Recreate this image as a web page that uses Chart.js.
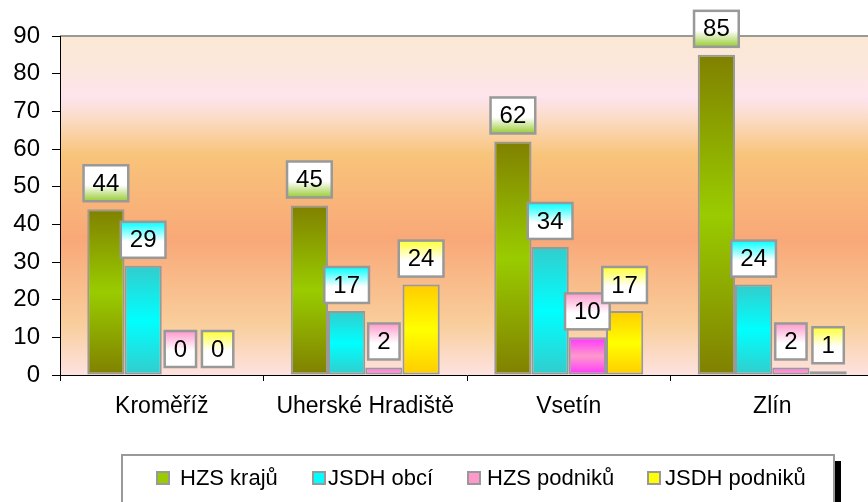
<!DOCTYPE html>
<html>
<head>
<meta charset="utf-8">
<script src="https://cdn.jsdelivr.net/npm/chart.js@4.4.1/dist/chart.umd.min.js"></script>
<style>
    html, body { margin: 0; padding: 0; background: #fff; overflow: hidden; }
    canvas { display: block; }
</style>
</head>
<body>
<canvas id="chart" width="874" height="502"></canvas>
<script>
// data
const categories = ['Kroměříž', 'Uherské Hradiště', 'Vsetín', 'Zlín'];
const seriesNames = ['HZS krajů', 'JSDH obcí', 'HZS podniků', 'JSDH podniků'];
const hzsKraju = [44, 45, 62, 85];
const jsdhObci = [29, 17, 34, 24];
const hzsPodniku = [0, 2, 10, 2];
const jsdhPodniku = [0, 24, 17, 1];
const yMin = 0, yMax = 90, yStep = 10;

// styles
const FONT = "'Liberation Sans', Arial, sans-serif";
const barEdge = ['#808000', '#33CCCC', '#FF33FF', '#FFCC00'];
const barMid = ['#99CC00', '#00FFFF', '#FF99CC', '#FFFF00'];
const labelTop = ['#ffffff', '#00FFFF', '#FF99CC', '#FFFF33'];
const labelBottom = ['#99CC33', '#ffffff', '#ffffff', '#ffffff'];
const legendMarkX = [157, 313, 468, 648];
const legendTextX = [180, 328, 487, 665];

function barFill(i) {
    return function (ctx) {
        const chart = ctx.chart;
        const y = chart.scales.y;
        if (!chart.chartArea || !y || ctx.raw === undefined) return barMid[i];
        const top = y.getPixelForValue(ctx.raw);
        const bottom = y.getPixelForValue(0);
        if (bottom - top < 1) return barMid[i];
        const g = chart.ctx.createLinearGradient(0, top, 0, bottom);
        g.addColorStop(0, barEdge[i]);
        g.addColorStop(0.5, barMid[i]);
        g.addColorStop(1, barEdge[i]);
        return g;
    };
}

const seriesValues = [hzsKraju, jsdhObci, hzsPodniku, jsdhPodniku];
const datasets = seriesValues.map(function (vals, i) {
    return {
        label: seriesNames[i],
        data: vals,
        backgroundColor: barFill(i),
        borderColor: '#999999',
        borderWidth: function (ctx) { return ctx.raw === 0 ? 0 : 2; },
        borderSkipped: false,
        categoryPercentage: 0.732,
        barPercentage: 1.0
    };
});

// plot area background gradient + top border
const plotBackground = {
    id: 'plotBackground',
    beforeDraw: function (chart) {
        const a = chart.chartArea;
        const c = chart.ctx;
        const g = c.createLinearGradient(0, a.top, 0, a.bottom);
        g.addColorStop(0, '#FBE8D2');
        g.addColorStop(0.12, '#FCE6E0');
        g.addColorStop(0.18, '#FDE4EE');
        g.addColorStop(0.24, '#FBDCC8');
        g.addColorStop(0.35, '#F8C47A');
        g.addColorStop(0.6, '#F9A878');
        g.addColorStop(0.85, '#F9CE9C');
        g.addColorStop(1, '#FDE2E0');
        c.save();
        c.fillStyle = g;
        c.fillRect(a.left, a.top, a.right - a.left, a.bottom - a.top);
        c.strokeStyle = '#999999';
        c.lineWidth = 2;
        c.beginPath();
        c.moveTo(a.left, a.top);
        c.lineTo(a.right, a.top);
        c.stroke();
        c.restore();
    }
};

// boxed value labels above each bar
const valueBoxes = {
    id: 'valueBoxes',
    afterDatasetsDraw: function (chart) {
        const c = chart.ctx;
        c.save();
        c.font = '24px ' + FONT;
        c.textAlign = 'center';
        c.textBaseline = 'middle';
        chart.data.datasets.forEach(function (ds, i) {
            const meta = chart.getDatasetMeta(i);
            meta.data.forEach(function (bar, j) {
                const text = String(ds.data[j]);
                const w = c.measureText(text).width + 18;
                const h = 36;
                const x = bar.x - w / 2;
                const y = bar.y - 8 - h;
                const g = c.createLinearGradient(0, y, 0, y + h);
                g.addColorStop(0, labelTop[i]);
                g.addColorStop(0.55, '#ffffff');
                g.addColorStop(1, labelBottom[i]);
                c.fillStyle = g;
                c.fillRect(x, y, w, h);
                c.strokeStyle = '#999999';
                c.lineWidth = 2.5;
                c.strokeRect(x, y, w, h);
                c.fillStyle = '#000';
                c.fillText(text, bar.x, y + h / 2 + 1);
            });
        });
        c.restore();
    }
};

// legend box at the bottom
const boxLegend = {
    id: 'boxLegend',
    afterDraw: function (chart) {
        const c = chart.ctx;
        c.save();
        c.fillStyle = '#000';
        c.fillRect(834, 461, 7, 45);
        c.fillStyle = '#fff';
        c.fillRect(122, 455, 712, 50);
        c.strokeStyle = '#999999';
        c.lineWidth = 2;
        c.strokeRect(122, 455, 712, 50);
        c.font = '22px ' + FONT;
        c.textBaseline = 'middle';
        c.textAlign = 'left';
        chart.data.datasets.forEach(function (ds, i) {
            c.fillStyle = barMid[i];
            c.fillRect(legendMarkX[i], 472, 12, 12);
            c.strokeStyle = '#999999';
            c.lineWidth = 2;
            c.strokeRect(legendMarkX[i], 472, 12, 12);
            c.fillStyle = '#000';
            c.fillText(ds.label, legendTextX[i], 479);
        });
        c.restore();
    }
};

new Chart(document.getElementById('chart').getContext('2d'), {
    type: 'bar',
    data: { labels: categories, datasets: datasets },
    options: {
        responsive: false,
        animation: false,
        layout: { padding: { top: 36, right: 0, bottom: 0, left: 0 } },
        plugins: {
            legend: { display: false },
            tooltip: { enabled: false }
        },
        scales: {
            x: {
                grid: { display: true, drawOnChartArea: false, color: '#000', tickLength: 6, offset: true },
                border: { color: '#000', width: 1 },
                ticks: { color: '#000', font: { family: FONT, size: 23 }, padding: 12, maxRotation: 0 },
                afterFit: function (s) { s.height = 127; }
            },
            y: {
                min: yMin,
                max: yMax,
                grid: { display: true, drawOnChartArea: false, color: '#000', tickLength: 8 },
                border: { color: '#000', width: 1 },
                ticks: { stepSize: yStep, color: '#000', font: { family: FONT, size: 24 }, padding: 12 },
                afterFit: function (s) { s.width = 60; }
            }
        }
    },
    plugins: [plotBackground, valueBoxes, boxLegend]
});
</script>
</body>
</html>
